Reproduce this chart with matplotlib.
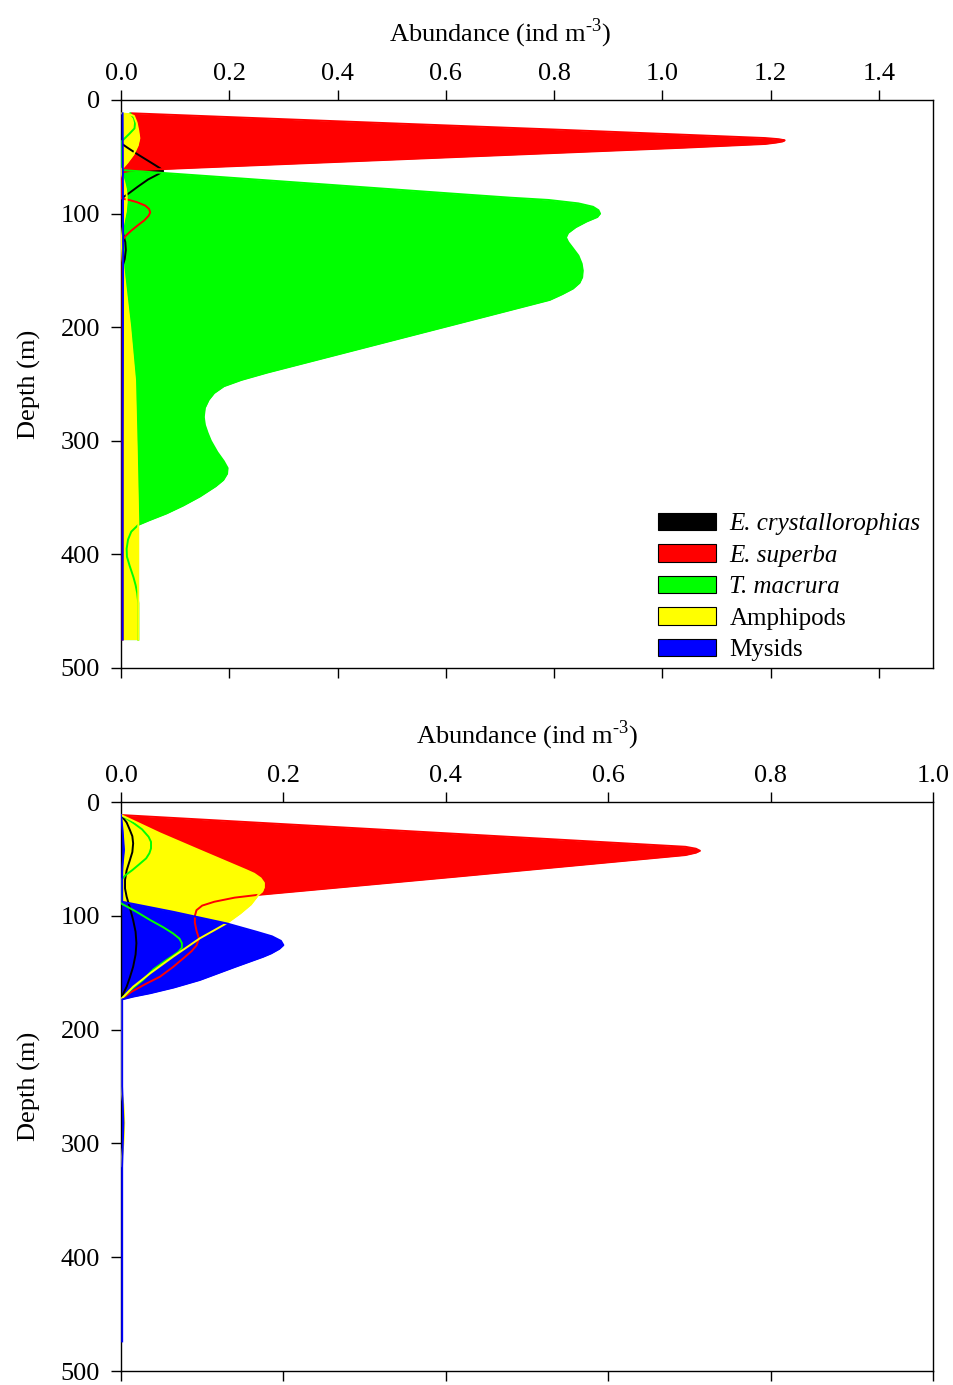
import matplotlib
matplotlib.use("Agg")
import matplotlib.pyplot as plt
from matplotlib.patches import Patch

plt.rcParams['font.family'] = 'Liberation Serif'
plt.rcParams['mathtext.fontset'] = 'custom'
plt.rcParams['mathtext.rm'] = 'Liberation Serif'

# Vertical abundance profiles (ind m-3) vs depth (m)

# --- upper panel ---
ec_top_d = [38, 42, 47, 52, 57, 60, 62.5, 65, 70, 76, 82, 85, 87, 100, 113, 118, 125,
            132, 140, 146, 150]
ec_top_v = [0, 0.012, 0.028, 0.045, 0.062, 0.072, 0.078, 0.07, 0.05, 0.032, 0.015,
            0.006, 0, 0, 0, 0.004, 0.008, 0.009, 0.007, 0.003, 0.001]

es_top_d = [11.7, 14, 18, 22, 26, 30, 33.5, 34.5, 35.5, 36.5, 37.5, 38.7, 42, 48, 54,
            60, 62, 64, 80, 86.6, 88, 90, 93, 96, 99, 102, 106, 110, 115, 119, 123, 130,
            200, 300, 400, 475]
es_top_v = [0.02, 0.144, 0.36, 0.58, 0.80, 1.01, 1.19, 1.215, 1.226, 1.222, 1.21, 1.19,
            1.039, 0.732, 0.425, 0.118, 0.02, 0, 0, 0, 0.015, 0.03, 0.045, 0.052, 0.054,
            0.051, 0.043, 0.032, 0.019, 0.01, 0.003, 0.003, 0.003, 0.003, 0.003, 0.003]

tm_top_d = [11.7, 16, 20, 25, 30, 37, 61.6, 68, 74.8, 83, 86, 88, 91, 94, 97, 100, 103,
            107, 112, 117, 121, 125, 130, 137, 144, 150, 156, 161, 166, 171, 176, 190,
            208, 228, 240, 246.5, 252, 258, 264, 271, 279, 286, 293, 300, 310, 318, 324,
            329, 334.5, 340, 349, 357, 364, 370, 374, 380, 387, 395, 402, 410, 420, 427,
            434, 443, 475]
tm_top_v = [0.017, 0.024, 0.026, 0.025, 0.015, 0, 0, 0.19, 0.39, 0.63, 0.72, 0.79, 0.845,
            0.872, 0.882, 0.885, 0.88, 0.86, 0.84, 0.826, 0.822, 0.826, 0.834, 0.845,
            0.851, 0.853, 0.852, 0.847, 0.835, 0.815, 0.792, 0.678, 0.531, 0.368, 0.27,
            0.222, 0.19, 0.172, 0.162, 0.155, 0.153, 0.155, 0.16, 0.166, 0.178, 0.19,
            0.197, 0.196, 0.189, 0.175, 0.146, 0.115, 0.084, 0.052, 0.032, 0.019, 0.013,
            0.0105, 0.011, 0.016, 0.023, 0.027, 0.03, 0.032, 0.032]

am_top_d = [11.7, 12.5, 14, 20, 27, 33.7, 40, 48, 55, 61.6, 66, 72, 78, 83.6, 90, 98,
            110, 123, 140, 158, 199.5, 246.5, 305, 372, 475]
am_top_v = [0, 0.015, 0.024, 0.029, 0.032, 0.034, 0.031, 0.023, 0.012, 0, 0.002, 0.006,
            0.009, 0.0105, 0.0105, 0.009, 0.004, 0.001, 0.003, 0.007, 0.017, 0.026,
            0.029, 0.032, 0.032]

my_top_d = [11.7, 130, 300, 475]
my_top_v = [0.003, 0.004, 0.003, 0.003]

# --- lower panel ---
ec_bot_d = [11.4, 18, 24.6, 30, 36.3, 44, 51, 60, 68.5, 76, 83.2, 93, 103.7, 114, 124,
            134, 144.7, 154, 162.3, 168, 173.4]
ec_bot_v = [0, 0.007, 0.011, 0.014, 0.015, 0.014, 0.011, 0.007, 0.005, 0.005, 0.007,
            0.011, 0.015, 0.018, 0.019, 0.018, 0.015, 0.011, 0.007, 0.003, 0]

es_bot_d = [11.4, 24, 39.3, 41, 42.8, 44.5, 46.6, 65.6, 81.7, 84, 87.6, 91, 95, 100, 106,
            113, 120, 126, 131, 136, 145, 153.5, 160, 166.7, 173.4]
es_bot_v = [0, 0.315, 0.695, 0.708, 0.713, 0.708, 0.695, 0.412, 0.167, 0.14, 0.115, 0.1,
            0.093, 0.091, 0.091, 0.093, 0.096, 0.093, 0.087, 0.079, 0.064, 0.048, 0.03,
            0.013, 0]

tm_bot_d = [11.4, 15, 18.7, 24, 30.5, 35, 40.7, 45, 49.5, 55, 59.8, 64, 68.5, 89, 96,
            103.7, 110, 115.4, 120, 124, 128, 131.5, 135, 138.8, 147, 156.4, 165, 173.4]
tm_bot_v = [0, 0.008, 0.016, 0.026, 0.034, 0.037, 0.037, 0.035, 0.031, 0.022, 0.014,
            0.006, 0, 0, 0.018, 0.036, 0.052, 0.064, 0.072, 0.075, 0.075, 0.071, 0.064,
            0.056, 0.04, 0.027, 0.012, 0]

am_bot_d = [11.4, 27.5, 42.2, 59.8, 63, 67, 71, 75, 78.5, 81.7, 90, 97.8, 106.6, 119.8,
            136, 150.5, 162.3, 173.4, 250, 266, 282, 300, 320]
am_bot_v = [0, 0.048, 0.096, 0.154, 0.164, 0.172, 0.176, 0.176, 0.174, 0.169, 0.16,
            0.147, 0.130, 0.097, 0.064, 0.036, 0.015, 0, 0, 0.003, 0.004, 0.003, 0]

my_bot_d = [11.4, 25, 42, 55, 62, 87.6, 96.4, 106.6, 114, 118, 122, 125.7, 129, 133, 136,
            145, 156.4, 163, 168, 171, 173.4, 250, 282, 320, 474]
my_bot_v = [0, 0.002, 0.0037, 0.002, 0.0015, 0.0015, 0.064, 0.130, 0.167, 0.186, 0.197,
            0.2, 0.195, 0.185, 0.175, 0.14, 0.097, 0.065, 0.036, 0.015, 0.0015, 0.0015,
            0.003, 0.0015, 0.0015]

names = ["E. crystallorophias", "E. superba", "T. macrura", "Amphipods", "Mysids"]
colors = ["#000000", "#ff0000", "#00ff00", "#ffff00", "#0000ff"]

top = [(ec_top_d, ec_top_v), (es_top_d, es_top_v), (tm_top_d, tm_top_v),
       (am_top_d, am_top_v), (my_top_d, my_top_v)]
bot = [(ec_bot_d, ec_bot_v), (es_bot_d, es_bot_v), (tm_bot_d, tm_bot_v),
       (am_bot_d, am_bot_v), (my_bot_d, my_bot_v)]

fig = plt.figure(figsize=(9.54, 13.85), dpi=100)
ax1 = fig.add_axes([0.1268, 0.5177, 0.8512, 0.4101])
ax2 = fig.add_axes([0.1268, 0.0101, 0.8512, 0.4108])


def draw_panel(ax, series, xmax, xticks):
    # fills first (later species on top), outlines above everything
    for (d, v), c in zip(series, colors):
        ax.fill_betweenx(d, 0, v, color=c, linewidth=0, zorder=1)
    for (d, v), c in zip(series, colors):
        ax.plot(v, d, color=c, linewidth=1.4, zorder=3)
    ax.set_xlim(0, xmax)
    ax.set_ylim(500, 0)
    ax.set_xticks(xticks)
    ax.set_xticklabels([f"{t:.1f}" for t in xticks])
    ax.set_yticks([0, 100, 200, 300, 400, 500])
    ax.xaxis.set_label_position('top')
    ax.tick_params(axis='x', top=True, bottom=True, labeltop=True, labelbottom=False,
                   direction='out', length=7, width=1, labelsize=19, pad=4)
    ax.tick_params(axis='y', left=True, right=False, direction='out', length=7,
                   width=1, labelsize=19, pad=8)
    for s in ax.spines.values():
        s.set_linewidth(1)
    ax.set_xlabel(r"Abundance (ind m$^{\text{-3}}$)", fontsize=19, labelpad=15)
    ax.set_ylabel("Depth (m)", fontsize=19, labelpad=14)


draw_panel(ax1, top, 1.5, [0.0, 0.2, 0.4, 0.6, 0.8, 1.0, 1.2, 1.4])
draw_panel(ax2, bot, 1.0, [0.0, 0.2, 0.4, 0.6, 0.8, 1.0])
# upper label is centred on the 0-1.4 part of the axis
ax1.xaxis.label.set_x(0.4668)

handles = [Patch(facecolor=c, edgecolor='black', linewidth=0.8) for c in colors]
leg = ax1.legend(handles, names, loc='lower right', bbox_to_anchor=(1.006, -0.019),
                 frameon=False, fontsize=18, handlelength=2.3, handleheight=0.7,
                 handletextpad=0.55, labelspacing=0.36, borderaxespad=0.3)
for t in leg.get_texts()[:3]:
    t.set_style('italic')

fig.savefig("out.png", dpi=100)
